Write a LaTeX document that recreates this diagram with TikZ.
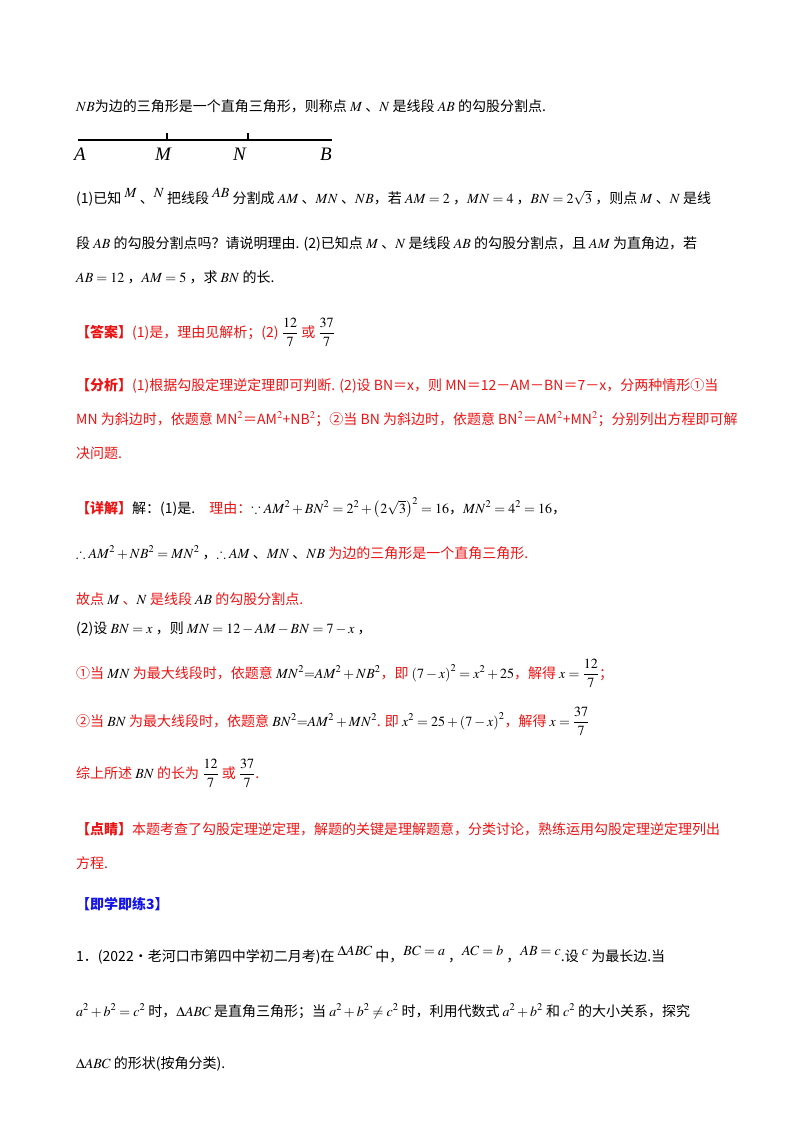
\documentclass[tikz,border=0pt]{standalone}
\usepackage{amsmath,amssymb}
\usepackage{mathptmx}
\usepackage[no-math]{fontspec}
\setmainfont{Liberation Serif}
\newfontfamily\cjk{Noto Sans CJK SC}
\newcommand\cjkbf{\cjk\bfseries}
\newcommand\up[1]{\raisebox{6pt}{#1}}
\definecolor{rd}{RGB}{235,20,20}
\definecolor{bl}{RGB}{20,20,230}
\begin{document}
\begin{tikzpicture}[x=1pt,y=-1pt,
  t/.style={anchor=base west,inner sep=0pt,font=\fontsize{14}{16}\selectfont\cjk},
  r/.style={t,text=rd}]
\useasboundingbox (0,0) rectangle (800,1132);
\fill[white] (0,0) rectangle (800,1132);
\node[t] (l1) at (76,111) {$NB$为边的三角形是一个直角三角形，则称点 $M$ 、$N$ 是线段 $AB$ 的勾股分割点.};
\coordinate (pA) at (78,140); \coordinate (pB) at (332,140);
\draw[line width=1.2pt] (pA) -- (pB);
\draw[line width=1.2pt] (167,140) -- (167,133) (248,140) -- (248,133);
\node[t,font=\fontsize{19}{20}\selectfont\itshape] (la) at (74,160) {A};
\node[t,font=\fontsize{19}{20}\selectfont\itshape] (lm) at (155,160) {M};
\node[t,font=\fontsize{19}{20}\selectfont\itshape] (ln) at (233,160) {N};
\node[t,font=\fontsize{19}{20}\selectfont\itshape] (lb) at (320,160) {B};
\node[t] (l2) at (76,203) {(1)已知 \up{$M$} 、\up{$N$} 把线段 \up{$AB$} 分割成 $AM$ 、$MN$ 、$NB$，若 $AM=2$ ，$MN=4$ ，$BN=2\sqrt3$ ，则点 $M$ 、$N$ 是线};
\node[t] (l3) at (76,248) {段 $AB$ 的勾股分割点吗？请说明理由. (2)已知点 $M$ 、$N$ 是线段 $AB$ 的勾股分割点，且 $AM$ 为直角边，若};
\node[t] (l4) at (76,282) {$AB=12$ ，$AM=5$ ，求 $BN$ 的长.};
\node[r] (l5) at (76,337) {{\cjkbf 【答案】}(1)是，理由见解析；(2) \textcolor{black}{$\dfrac{12}{7}$} 或 \textcolor{black}{$\dfrac{37}{7}$}};
\node[r] (l6) at (76,390) {{\cjkbf 【分析】}(1)根据勾股定理逆定理即可判断. (2)设 \textit{BN}＝\textit{x}，则 \textit{MN}＝12－\textit{AM}－\textit{BN}＝7－\textit{x}，分两种情形①当};
\node[r] (l7) at (76,424) {\textit{MN} 为斜边时，依题意 \textit{MN}$^2$＝\textit{AM}$^2$+\textit{NB}$^2$；②当 \textit{BN} 为斜边时，依题意 \textit{BN}$^2$＝\textit{AM}$^2$+\textit{MN}$^2$；分别列出方程即可解};
\node[r] (l8) at (76,458) {决问题.};
\node[r] (l9) at (76,513) {{\cjkbf 【详解】}\textcolor{black}{解：(1)是.}\quad 理由：\textcolor{black}{$\because AM^2+BN^2=2^2+\left(2\sqrt3\right)^2=16$，$MN^2=4^2=16$，}};
\node[r] (l10) at (76,558) {\textcolor{black}{$\therefore AM^2+NB^2=MN^2$ ，$\therefore AM$ 、$MN$ 、$NB$} 为边的三角形是一个直角三角形.};
\node[r] (l11) at (76,604) {故点 \textcolor{black}{$M$} 、\textcolor{black}{$N$} 是线段 \textcolor{black}{$AB$} 的勾股分割点.};
\node[t] (l12) at (76,633) {(2)设 $BN=x$ ，则 $MN=12-AM-BN=7-x$ ，};
\node[r] (l13) at (76,678) {①当 \textcolor{black}{$MN$} 为最大线段时，依题意 \textcolor{black}{$MN^2{=}AM^2+NB^2$}，即 \textcolor{black}{$\left(7-x\right)^2=x^2+25$}，解得 \textcolor{black}{$x=\dfrac{12}{7}$}；};
\node[r] (l14) at (76,726) {②当 \textcolor{black}{$BN$} 为最大线段时，依题意 \textcolor{black}{$BN^2{=}AM^2+MN^2$}. 即 \textcolor{black}{$x^2=25+\left(7-x\right)^2$}，解得 \textcolor{black}{$x=\dfrac{37}{7}$}};
\node[r] (l15) at (76,778) {综上所述 \textcolor{black}{$BN$} 的长为 \textcolor{black}{$\dfrac{12}{7}$} 或 \textcolor{black}{$\dfrac{37}{7}$}.};
\node[r] (l16) at (76,834) {{\cjkbf 【点睛】}本题考查了勾股定理逆定理，解题的关键是理解题意，分类讨论，熟练运用勾股定理逆定理列出};
\node[r] (l17) at (76,868) {方程.};
\node[t,text=bl] (l18) at (76,909) {\cjkbf 【即学即练3】};
\node[t] (l19) at (76,961) {1．(2022·老河口市第四中学初二月考)在 \up{$\Delta ABC$} 中，\up{$BC=a$} ，\up{$AC=b$} ，\up{$AB=c$}.设 \up{$c$} 为最长边.当};
\node[t] (l20) at (76,1016) {$a^2+b^2=c^2$ 时，$\Delta ABC$ 是直角三角形；当 $a^2+b^2\neq c^2$ 时，利用代数式 $a^2+b^2$ 和 $c^2$ 的大小关系，探究};
\node[t] (l21) at (76,1068) {$\Delta ABC$ 的形状(按角分类).};
\end{tikzpicture}
\end{document}
